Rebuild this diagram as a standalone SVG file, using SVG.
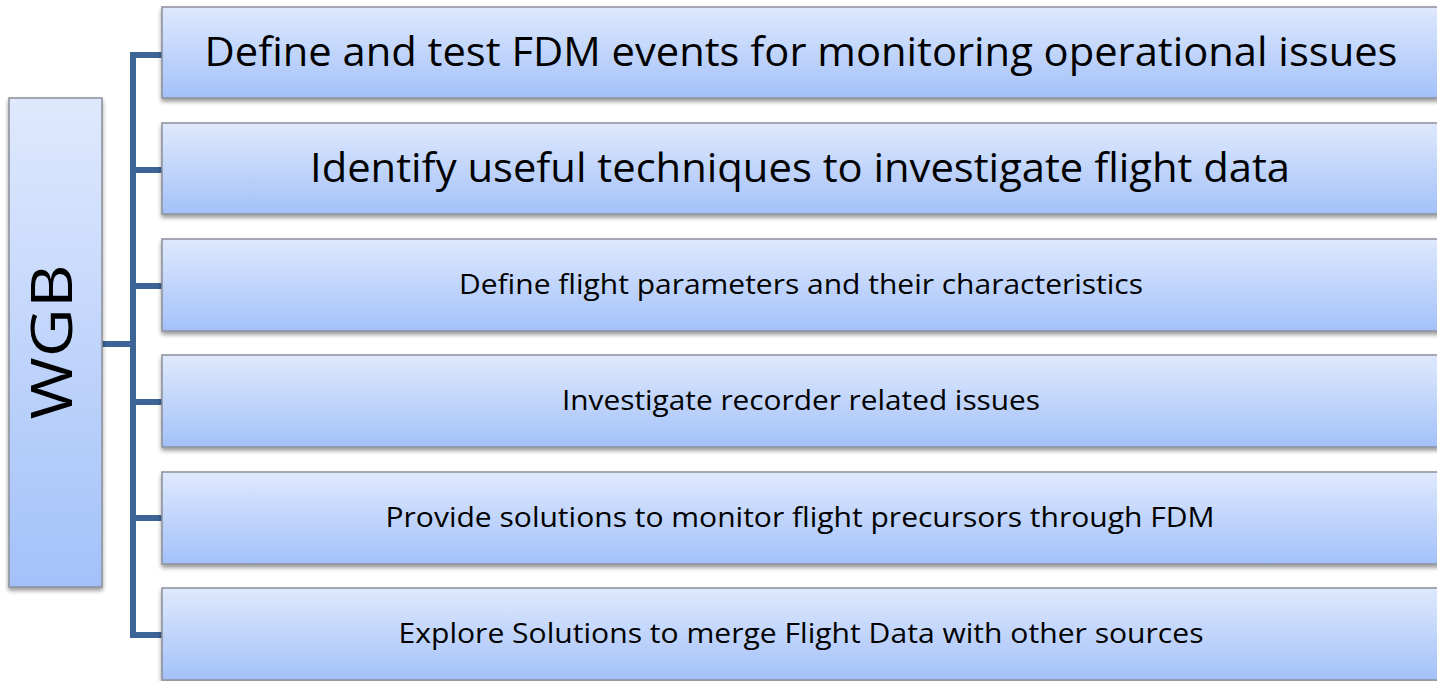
<svg xmlns="http://www.w3.org/2000/svg" width="1437" height="681" viewBox="0 0 1437 681">
<defs>
<linearGradient id="g" x1="0" y1="0" x2="0" y2="1">
<stop offset="0" stop-color="#dfe9fd"/>
<stop offset="1" stop-color="#a3c1f9"/>
</linearGradient>
<filter id="sh" x="-5%" y="-10%" width="110%" height="125%">
<feGaussianBlur in="SourceAlpha" stdDeviation="2"/>
<feOffset dx="0" dy="3" result="b"/>
<feComponentTransfer><feFuncA type="linear" slope="0.4"/></feComponentTransfer>
<feMerge><feMergeNode/><feMergeNode in="SourceGraphic"/></feMerge>
</filter>
</defs>
<style>
.box{fill:url(#g);stroke:#8a8f99;stroke-width:1.5;filter:url(#sh)}
.t{font-family:"Open Sans","Noto Sans",sans-serif;fill:#000;text-anchor:middle}
.big{font-size:40px}
.sm{font-size:27px}
.con{fill:none;stroke:#3c6496;stroke-width:6;stroke-linejoin:miter}
</style>
<rect width="1437" height="681" fill="#fff"/>
<g id="connectors">
<path class="con" d="M162 55 H133 V635 H162"/>
<path class="con" d="M133 170 H162 M133 286 H162 M133 402 H162 M133 518 H162"/>
<path class="con" d="M102 344 H133"/>
</g>
<g id="wgb">
<rect class="box" x="9" y="98" width="93" height="489"/>
<text class="t" transform="translate(72 342) rotate(-90)" style="font-size:56px" textLength="155" lengthAdjust="spacingAndGlyphs">WGB</text>
</g>
<g id="n1">
<rect class="box" x="162" y="7" width="1290" height="91"/>
<text class="t big" x="801" y="66" textLength="1193" lengthAdjust="spacingAndGlyphs">Define and test FDM events for monitoring operational issues</text>
</g>
<g id="n2">
<rect class="box" x="162" y="123" width="1290" height="91"/>
<text class="t big" x="800" y="182" textLength="980" lengthAdjust="spacingAndGlyphs">Identify useful techniques to investigate flight data</text>
</g>
<g id="n3">
<rect class="box" x="162" y="239" width="1290" height="92"/>
<text class="t sm" x="801" y="294" textLength="684" lengthAdjust="spacingAndGlyphs">Define flight parameters and their characteristics</text>
</g>
<g id="n4">
<rect class="box" x="162" y="355" width="1290" height="92"/>
<text class="t sm" x="801" y="410" textLength="478" lengthAdjust="spacingAndGlyphs">Investigate recorder related issues</text>
</g>
<g id="n5">
<rect class="box" x="162" y="472" width="1290" height="92"/>
<text class="t sm" x="800" y="527" textLength="829" lengthAdjust="spacingAndGlyphs">Provide solutions to monitor flight precursors through FDM</text>
</g>
<g id="n6">
<rect class="box" x="162" y="588" width="1290" height="92"/>
<text class="t sm" x="801" y="643" textLength="805" lengthAdjust="spacingAndGlyphs">Explore Solutions to merge Flight Data with other sources</text>
</g>
</svg>
